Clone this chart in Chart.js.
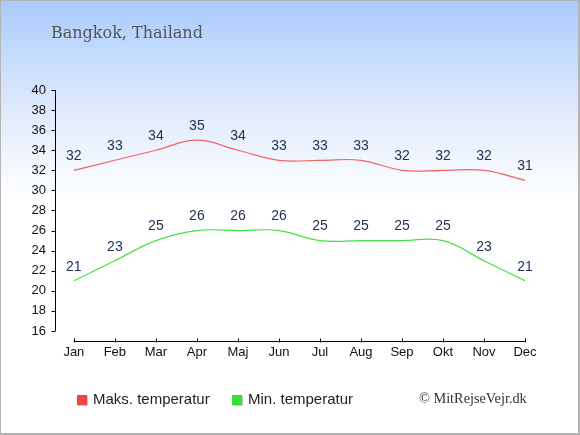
<!DOCTYPE html>
<html>
<head>
<meta charset="utf-8">
<script src="https://cdn.jsdelivr.net/npm/chart.js@4"></script>
<style>
	html,
	body {
		margin: 0;
		padding: 0;
	}
	.wrap {
		position: relative;
		width: 580px;
		height: 435px;
		background: linear-gradient(#a9cbfd 0px, #dfeafc 110px, #ffffff 200px, #ffffff 435px);
		overflow: hidden;
	}
	.wrap canvas {
		position: absolute;
		left: 0;
		top: 0;
	}
	.frame {
		position: absolute;
		inset: 0;
		border: 1px solid #b4b4b4;
		border-right-width: 2px;
		border-bottom-width: 2px;
		pointer-events: none;
	}
	.title {
		position: absolute;
		left: 51px;
		top: 23px;
		font: 16px "DejaVu Serif", serif;
		color: #555;
	}
	.legend {
		position: absolute;
		top: 390px;
		font: 15px "Liberation Sans", Arial, sans-serif;
		color: #222;
		white-space: nowrap;
	}
	.legend i {
		display: inline-block;
		width: 10px;
		height: 10px;
		margin-right: 6px;
		vertical-align: -1px;
		box-shadow: 1px 1px 0 #c8c8c8;
	}
	.copy {
		position: absolute;
		left: 419px;
		top: 390px;
		font: 14.3px "Liberation Serif", "Times New Roman", serif;
		color: #333;
	}
</style>
</head>
<body>
<div class="wrap">
	<canvas id="chart" width="580" height="435"></canvas>
	<div class="title">Bangkok, Thailand</div>
	<div class="legend" style="left: 77px"><i style="background: #ef4545"></i>Maks. temperatur</div>
	<div class="legend" style="left: 232px"><i style="background: #33e033"></i>Min. temperatur</div>
	<div class="copy">© MitRejseVejr.dk</div>
	<div class="frame"></div>
</div>
<script>
const months = ["Jan", "Feb", "Mar", "Apr", "Maj", "Jun", "Jul", "Aug", "Sep", "Okt", "Nov", "Dec"];
const maxTemp = [32, 33, 34, 35, 34, 33, 33, 33, 32, 32, 32, 31];
const minTemp = [21, 23, 25, 26, 26, 26, 25, 25, 25, 25, 23, 21];
const yTicks = [16, 18, 20, 22, 24, 26, 28, 30, 32, 34, 36, 38, 40];

const toPoints = values => values.map((v, i) => ({ x: i, y: v }));

// axis lines drawn from the scales, reference axes do not meet
const axes = {
	id: "axes",
	beforeDatasetsDraw(chart) {
		const { ctx, scales } = chart;
		const { x, y } = scales;
		ctx.save();
		ctx.strokeStyle = "#000";
		ctx.lineWidth = 1;
		ctx.beginPath();
		const yx = Math.round(x.left) + 0.5;
		ctx.moveTo(yx, y.getPixelForValue(yTicks[yTicks.length - 1]));
		ctx.lineTo(yx, y.getPixelForValue(yTicks[0]));
		yTicks.forEach(t => {
			const py = Math.round(y.getPixelForValue(t)) + 0.5;
			ctx.moveTo(yx - 4, py);
			ctx.lineTo(yx, py);
		});
		const xy = Math.round(y.bottom) + 0.5;
		ctx.moveTo(x.getPixelForValue(0), xy);
		ctx.lineTo(x.getPixelForValue(months.length - 1), xy);
		months.forEach((m, i) => {
			const px = Math.round(x.getPixelForValue(i)) + 0.5;
			ctx.moveTo(px, xy - 3);
			ctx.lineTo(px, xy + 1);
		});
		ctx.stroke();
		ctx.restore();
	},
};

const valueLabels = {
	id: "valueLabels",
	afterDatasetsDraw(chart) {
		const { ctx } = chart;
		ctx.save();
		ctx.font = '14px "Liberation Sans", Arial, sans-serif';
		ctx.fillStyle = "#223355";
		ctx.textAlign = "center";
		ctx.textBaseline = "middle";
		chart.data.datasets.forEach((ds, i) => {
			chart.getDatasetMeta(i).data.forEach((pt, j) => {
				ctx.fillText(ds.data[j].y, pt.x, pt.y - 14);
			});
		});
		ctx.restore();
	},
};

const tickFont = { family: "Liberation Sans", size: 13 };

new Chart(document.getElementById("chart"), {
	type: "line",
	plugins: [axes, valueLabels],
	data: {
		datasets: [
			{
				label: "Maks. temperatur",
				data: toPoints(maxTemp),
				borderColor: "#f26464",
				borderWidth: 1.2,
				pointRadius: 0,
				tension: 0.4,
			},
			{
				label: "Min. temperatur",
				data: toPoints(minTemp),
				borderColor: "#45e045",
				borderWidth: 1.2,
				pointRadius: 0,
				tension: 0.4,
			},
		],
	},
	options: {
		responsive: false,
		animation: false,
		devicePixelRatio: 1,
		layout: { padding: { top: 90, right: 55, left: 0, bottom: 0 } },
		plugins: {
			legend: { display: false },
			tooltip: { enabled: false },
		},
		scales: {
			x: {
				type: "linear",
				min: -0.46,
				max: 11,
				grid: { display: false, drawTicks: false },
				border: { display: false },
				afterBuildTicks: scale => {
					scale.ticks = months.map((m, i) => ({ value: i }));
				},
				afterFit: scale => {
					scale.height = 94;
				},
				ticks: {
					padding: 4,
					autoSkip: false,
					maxRotation: 0,
					color: "#111",
					font: tickFont,
					callback: value => months[value],
				},
			},
			y: {
				min: 15,
				max: 40,
				grid: { display: false, drawTicks: false },
				border: { display: false },
				afterBuildTicks: scale => {
					scale.ticks = yTicks.map(v => ({ value: v }));
				},
				afterFit: scale => {
					scale.width = 55;
				},
				ticks: {
					padding: 9,
					color: "#111",
					font: tickFont,
				},
			},
		},
	},
});
</script>
</body>
</html>
